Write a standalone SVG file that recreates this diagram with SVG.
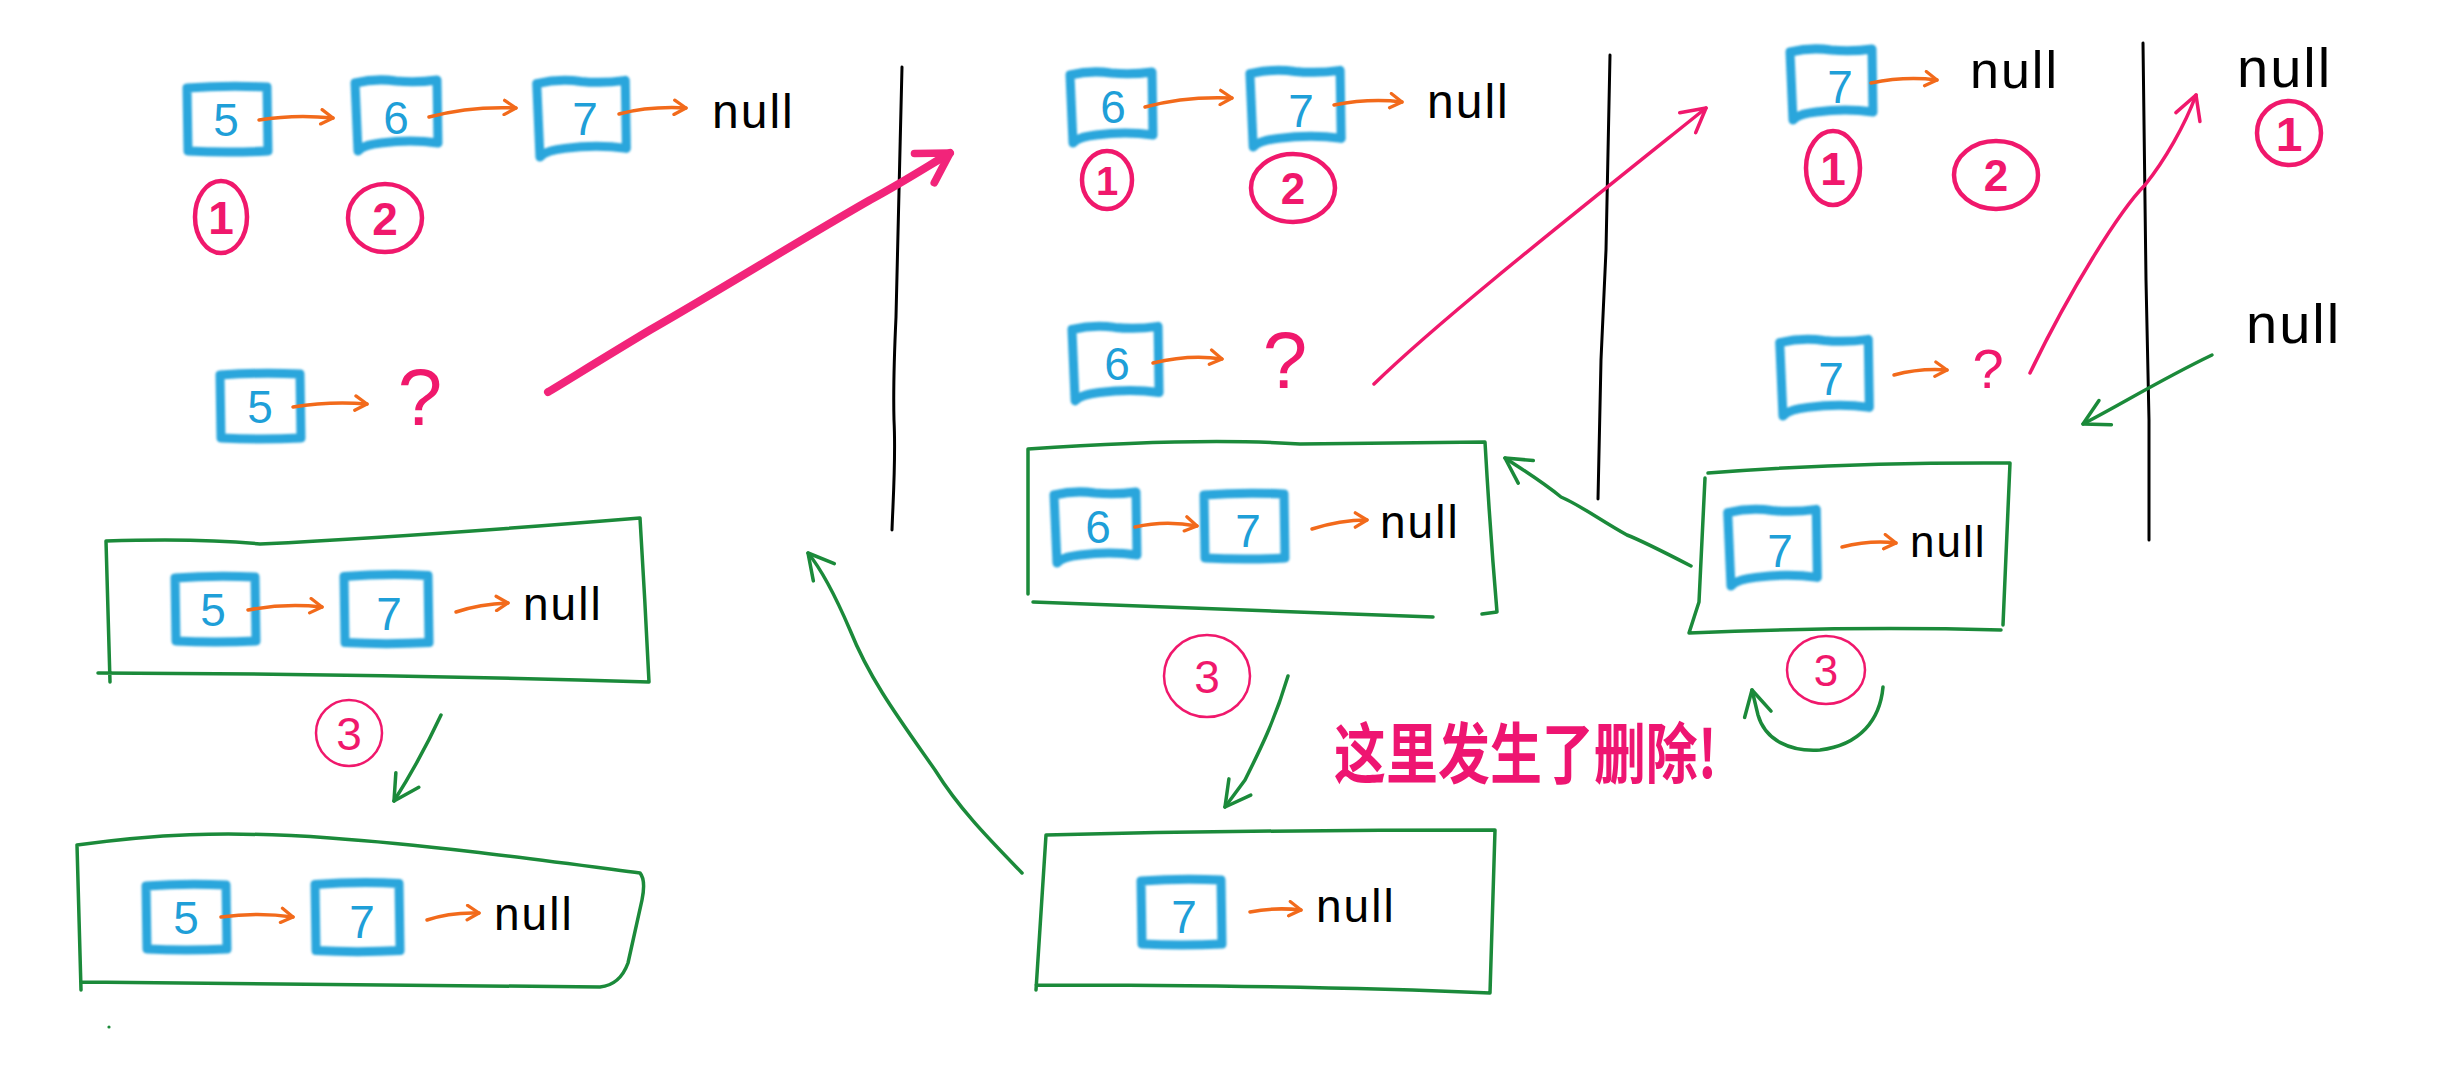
<svg xmlns="http://www.w3.org/2000/svg" xmlns:xlink="http://www.w3.org/1999/xlink" width="2462" height="1080" viewBox="0 0 2462 1080">
<style>
.bx{fill:none;stroke:#2ba6dc;stroke-width:9;stroke-linejoin:round;stroke-linecap:round;vector-effect:non-scaling-stroke}
.num{font-family:"Liberation Sans",Arial,sans-serif;font-size:46px;fill:#1f9fd8;text-anchor:middle}
.oa{fill:none;stroke:#f26a1b;stroke-width:3.5;stroke-linecap:round;stroke-linejoin:round}
.nul{font-family:"Liberation Sans",Arial,sans-serif;fill:#000;letter-spacing:2px}
.ring{fill:none;stroke:#f0186c;stroke-width:4.5}
.ring3{fill:none;stroke:#f0186c;stroke-width:2.5}
.cn{font-family:"Liberation Sans",Arial,sans-serif;fill:#f0186c;text-anchor:middle;font-weight:bold}
.cn3{font-family:"Liberation Sans",Arial,sans-serif;fill:#f0186c;text-anchor:middle}
.q{font-family:"Liberation Sans",Arial,sans-serif;fill:#f0186c;text-anchor:middle}
.frame{fill:none;stroke:#1b8a3a;stroke-width:3.5;stroke-linecap:round;stroke-linejoin:round}
.ga{fill:none;stroke:#1b8a3a;stroke-width:3.5;stroke-linecap:round;stroke-linejoin:round}
.pa{fill:none;stroke:#f0186c;stroke-width:3.5;stroke-linecap:round;stroke-linejoin:round}
.pb{fill:none;stroke:#f2247a;stroke-width:8;stroke-linecap:round;stroke-linejoin:round}
.vl{fill:none;stroke:#000;stroke-width:3;stroke-linecap:round}
.zh{font-family:"Noto Sans CJK SC","Noto Sans CJK JP",sans-serif;font-weight:bold;fill:#ee1571;font-size:66px}
</style>
<defs>
<filter id="soft" x="-10%" y="-10%" width="120%" height="120%"><feGaussianBlur stdDeviation="0.8"/></filter>
<path id="bp" class="bx" d="M-40,-31 Q0,-34 40,-32 L41,32 Q0,34 -39,32 Z"/>
<path id="bw" class="bx" d="M-41,-30 Q-20,-35 0,-32 Q20,-30 41,-33 L42,30 Q15,26 -15,30 Q-33,32 -38,38 L-41,-30 Z"/>
<marker id="oh" viewBox="0 0 20 20" refX="16" refY="10" markerWidth="18" markerHeight="18" markerUnits="userSpaceOnUse" orient="auto"><path d="M3,2 L16,10 L3,18" fill="none" stroke="#f26a1b" stroke-width="3.6" stroke-linecap="round" stroke-linejoin="round"/></marker>
<marker id="gh" viewBox="0 0 30 30" refX="26" refY="15" markerWidth="34" markerHeight="34" markerUnits="userSpaceOnUse" orient="auto"><path d="M4,3 L26,15 L4,27" fill="none" stroke="#1b8a3a" stroke-width="3.1" stroke-linecap="round" stroke-linejoin="round"/></marker>
<marker id="ph" viewBox="0 0 30 30" refX="26" refY="15" markerWidth="32" markerHeight="32" markerUnits="userSpaceOnUse" orient="auto"><path d="M4,3 L26,15 L4,27" fill="none" stroke="#f0186c" stroke-width="3.3" stroke-linecap="round" stroke-linejoin="round"/></marker>
<marker id="pbh" viewBox="0 0 40 40" refX="34" refY="20" markerWidth="44" markerHeight="44" markerUnits="userSpaceOnUse" orient="auto"><path d="M6,4 L34,20 L8,36" fill="none" stroke="#f2247a" stroke-width="7" stroke-linecap="round" stroke-linejoin="round"/></marker>
</defs>
<rect width="2462" height="1080" fill="#fff"/>

<g id="dividers">
<path class="vl" d="M902,67 C900,150 898,230 896,317 C894,360 893,383 894,420 C896,460 893,500 892,530"/>
<path class="vl" d="M1610,55 L1606,250 L1601,360 L1598,499"/>
<path class="vl" d="M2143,43 L2146,280 L2149,420 L2149,540"/>
</g>

<!-- Panel 1 -->
<g id="p1-list">
<use href="#bp" transform="translate(227,119)" filter="url(#soft)"/>
<text class="num" x="226" y="136">5</text>
<use href="#bw" transform="translate(396,113)" filter="url(#soft)"/>
<text class="num" x="396" y="134">6</text>
<use href="#bw" transform="translate(581,116) scale(1.08,1.08)" filter="url(#soft)"/>
<text class="num" x="585" y="135">7</text>
<text class="nul" x="712" y="128" font-size="48">null</text>
</g>
<g id="p1-marks">
<ellipse class="ring" cx="221" cy="217" rx="26" ry="36"/>
<text class="cn" x="221" y="234" font-size="46">1</text>
<ellipse class="ring" cx="385" cy="218" rx="37" ry="34"/>
<text class="cn" x="385" y="235" font-size="46">2</text>
</g>
<g id="p1-query">
<use href="#bp" transform="translate(260,406)" filter="url(#soft)"/>
<text class="num" x="260" y="423">5</text>
<text class="q" x="420" y="425" font-size="80">?</text>
</g>
<g id="p1-box1">
<path class="frame" d="M106,541 Q200,538 260,544 Q420,536 640,518 Q645,600 649,682 Q380,674 98,673 M106,541 L110,682"/>
<use href="#bp" transform="translate(215,609)" filter="url(#soft)"/>
<text class="num" x="213" y="626">5</text>
<use href="#bp" transform="translate(386,609) scale(1.05,1.05)" filter="url(#soft)"/>
<text class="num" x="389" y="630">7</text>
<text class="nul" x="523" y="620" font-size="46">null</text>
</g>
<g id="p1-step3">
<ellipse class="ring3" cx="349" cy="733" rx="33" ry="33"/>
<text class="cn3" x="349" y="750" font-size="46">3</text>
</g>
<g id="p1-box2">
<path class="frame" d="M77,845 C150,835 220,830 330,838 C430,845 540,860 640,873 Q646,880 642,900 L628,963 Q620,985 600,987 L81,982 M77,845 L81,990"/>
<use href="#bp" transform="translate(186,917)" filter="url(#soft)"/>
<text class="num" x="186" y="934">5</text>
<use href="#bp" transform="translate(357,917) scale(1.05,1.05)" filter="url(#soft)"/>
<text class="num" x="362" y="938">7</text>
<text class="nul" x="494" y="930" font-size="46">null</text>
<circle cx="109" cy="1027" r="1.6" fill="#1b8a3a"/>
</g>

<!-- Panel 2 -->
<g id="p2-list">
<use href="#bw" transform="translate(1111,105)" filter="url(#soft)"/>
<text class="num" x="1113" y="123">6</text>
<use href="#bw" transform="translate(1295,106) scale(1.1,1.08)" filter="url(#soft)"/>
<text class="num" x="1301" y="127">7</text>
<text class="nul" x="1427" y="118" font-size="48">null</text>
</g>
<g id="p2-marks">
<ellipse class="ring" cx="1107" cy="180" rx="25" ry="29"/>
<text class="cn" x="1107" y="195" font-size="40">1</text>
<ellipse class="ring" cx="1293" cy="188" rx="42" ry="34"/>
<text class="cn" x="1293" y="204" font-size="44">2</text>
</g>
<g id="p2-query">
<use href="#bw" transform="translate(1115,361) scale(1.05,1.05)" filter="url(#soft)"/>
<text class="num" x="1117" y="380">6</text>
<text class="q" x="1285" y="388" font-size="80">?</text>
</g>
<g id="p2-box1">
<path class="frame" d="M1028,449 Q1200,437 1300,444 L1485,442 Q1490,530 1497,612 L1482,614 M1033,602 Q1250,610 1433,617 M1028,449 L1028,594"/>
<use href="#bw" transform="translate(1095,525)" filter="url(#soft)"/>
<text class="num" x="1098" y="543">6</text>
<use href="#bp" transform="translate(1244,526)" filter="url(#soft)"/>
<text class="num" x="1248" y="547">7</text>
<text class="nul" x="1380" y="538" font-size="46">null</text>
</g>
<g id="p2-step3">
<ellipse class="ring3" cx="1207" cy="676" rx="43" ry="41"/>
<text class="cn3" x="1207" y="693" font-size="46">3</text>
</g>
<g id="p2-box2">
<path class="frame" d="M1046,835 Q1250,830 1495,830 L1490,993 Q1300,985 1036,985 M1046,835 L1036,990"/>
<use href="#bp" transform="translate(1181,912)" filter="url(#soft)"/>
<text class="num" x="1184" y="933">7</text>
<text class="nul" x="1316" y="922" font-size="46">null</text>
</g>
<g id="note">
<text class="zh" x="1334" y="778" textLength="383" lengthAdjust="spacingAndGlyphs">这里发生了删除!</text>
</g>

<!-- Panel 3 -->
<g id="p3-list">
<use href="#bw" transform="translate(1831,82)" filter="url(#soft)"/>
<text class="num" x="1840" y="103">7</text>
<text class="nul" x="1970" y="88" font-size="52">null</text>
</g>
<g id="p3-marks">
<ellipse class="ring" cx="1833" cy="168" rx="27" ry="37"/>
<text class="cn" x="1833" y="185" font-size="46">1</text>
<ellipse class="ring" cx="1996" cy="175" rx="42" ry="34"/>
<text class="cn" x="1996" y="191" font-size="44">2</text>
</g>
<g id="p3-query">
<use href="#bw" transform="translate(1824,375) scale(1.08,1.08)" filter="url(#soft)"/>
<text class="num" x="1831" y="395">7</text>
<text class="q" x="1988" y="388" font-size="56">?</text>
</g>
<g id="p3-box1">
<path class="frame" d="M1708,473 Q1850,462 2010,463 L2003,625 M2001,630 Q1850,626 1689,633 L1699,602 L1705,478"/>
<use href="#bw" transform="translate(1772,545) scale(1.08,1.08)" filter="url(#soft)"/>
<text class="num" x="1780" y="567">7</text>
<text class="nul" x="1910" y="557" font-size="44">null</text>
</g>
<g id="p3-step3">
<ellipse class="ring3" cx="1826" cy="670" rx="39" ry="34"/>
<text class="cn3" x="1826" y="686" font-size="44">3</text>
</g>

<!-- Panel 4 -->
<g id="p4-null">
<text class="nul" x="2237" y="87" font-size="56">null</text>
<ellipse class="ring" cx="2289" cy="133" rx="32" ry="32"/>
<text class="cn" x="2289" y="151" font-size="48">1</text>
</g>
<g id="p4-base">
<text class="nul" x="2246" y="343" font-size="56">null</text>
</g>

<g id="connectors">
<path class="oa" marker-end="url(#oh)" d="M259,120 Q295,114 333,118"/>
<path class="oa" marker-end="url(#oh)" d="M429,117 Q470,106 516,108"/>
<path class="oa" marker-end="url(#oh)" d="M619,114 Q650,106 686,108"/>
<path class="oa" marker-end="url(#oh)" d="M293,407 Q330,401 367,404"/>
<path class="oa" marker-end="url(#oh)" d="M248,610 Q285,603 322,607"/>
<path class="oa" marker-end="url(#oh)" d="M456,612 Q480,604 508,603"/>
<path class="oa" marker-end="url(#oh)" d="M221,917 Q258,912 293,917"/>
<path class="oa" marker-end="url(#oh)" d="M427,920 Q450,912 479,913"/>
<path class="oa" marker-end="url(#oh)" d="M1145,107 Q1185,96 1232,98"/>
<path class="oa" marker-end="url(#oh)" d="M1334,105 Q1370,98 1402,102"/>
<path class="oa" marker-end="url(#oh)" d="M1153,363 Q1190,354 1222,359"/>
<path class="oa" marker-end="url(#oh)" d="M1135,527 Q1165,520 1197,526"/>
<path class="oa" marker-end="url(#oh)" d="M1312,529 Q1340,520 1367,520"/>
<path class="oa" marker-end="url(#oh)" d="M1250,912 Q1275,907 1301,910"/>
<path class="oa" marker-end="url(#oh)" d="M1871,83 Q1905,76 1937,80"/>
<path class="oa" marker-end="url(#oh)" d="M1894,375 Q1920,368 1947,370"/>
<path class="oa" marker-end="url(#oh)" d="M1842,547 Q1870,540 1896,543"/>
<path class="pb" marker-end="url(#pbh)" d="M548,392 C560,385 600,360 650,330 C720,290 800,240 870,200 C900,184 928,166 950,153"/>
<path class="pa" marker-end="url(#ph)" d="M1374,384 C1440,320 1560,225 1706,108"/>
<path class="pa" marker-end="url(#ph)" d="M2030,373 C2070,290 2120,210 2145,185 C2165,160 2185,125 2196,95"/>
<path class="ga" marker-end="url(#gh)" d="M441,715 Q420,760 394,801"/>
<path class="ga" marker-end="url(#gh)" d="M1022,873 C990,840 960,810 935,770 C900,720 870,680 850,630 C835,595 822,570 808,553"/>
<path class="ga" marker-end="url(#gh)" d="M1288,676 C1275,720 1260,750 1245,780 L1225,807"/>
<path class="ga" marker-end="url(#gh)" d="M1691,566 C1660,550 1640,540 1627,535 C1600,520 1580,505 1561,497 C1540,480 1520,468 1505,458"/>
<path class="ga" marker-end="url(#gh)" d="M2212,355 C2160,380 2120,405 2083,424"/>
<path class="ga" marker-end="url(#gh)" d="M1883,687 C1880,720 1860,745 1820,750 C1790,752 1765,740 1758,715 L1752,690"/>
</g>
</svg>
